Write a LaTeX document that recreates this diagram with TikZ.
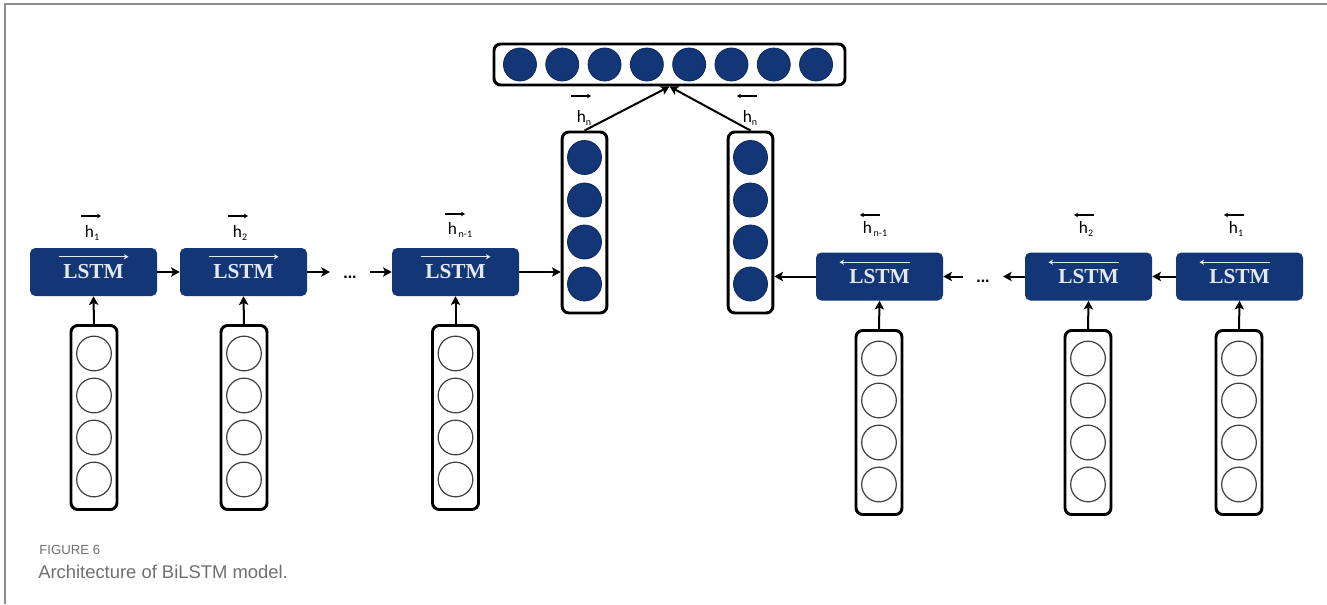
\documentclass[tikz,border=0pt]{standalone}
\usepackage{fontspec}
\setmainfont{Liberation Sans}
\newfontfamily\lstmfont{Liberation Serif}
\newfontfamily\hfont{Carlito}
\usetikzlibrary{arrows.meta,calc}
\definecolor{navy}{RGB}{19,55,118}
\definecolor{navyd}{RGB}{12,38,90}
\definecolor{capgray}{RGB}{112,112,112}
\definecolor{framegray}{RGB}{140,140,140}
\definecolor{lstmtxt}{RGB}{226,233,243}
\newcommand\hsub[1]{h\raisebox{-0.45ex}{\fontsize{7.5pt}{8pt}\selectfont #1}}
\tikzset{
  lstmbox/.style={fill=navy, rounded corners=4pt, minimum width=95.25pt, minimum height=36pt,
    inner sep=0pt, text=lstmtxt, font=\lstmfont\bfseries\fontsize{16pt}{16pt}\selectfont},
  wcol/.style={draw=black, line width=2.2pt, rounded corners=5pt, fill=white, minimum width=34.5pt, inner sep=0pt},
  wcirc/.style={circle, draw=black!75, line width=0.9pt, minimum size=26pt, inner sep=0pt},
  dcirc/.style={circle, fill=navy, draw=navyd, line width=0.6pt, minimum size=25.5pt, inner sep=0pt},
  conn/.style={line width=1.5pt, -{Stealth[length=6.5pt,width=7pt,inset=1.5pt]}},
  harrow/.style={line width=0.8pt, -{Stealth[length=3pt,width=3.5pt]}},
  lstmarrow/.style={draw=lstmtxt, line width=1.1pt, -{Stealth[length=3.5pt,width=4pt]}},
  hlab/.style={font=\hfont\fontsize{13pt}{14pt}\selectfont, inner sep=0pt},
  dots/.style={font=\bfseries\fontsize{12pt}{12pt}\selectfont, inner sep=0pt},
  capt/.style={anchor=base west, inner sep=0pt, text=capgray},
}
\begin{document}
\begin{tikzpicture}[x=0.75pt,y=-0.75pt]
\useasboundingbox (0,0) rectangle (1327,604);
\draw[framegray, line width=1.2pt] (1327,4) -- (5,4) -- (5,604);

% LSTM boxes
\node[lstmbox] (f1) at (93.5,272) {LSTM};
\node[lstmbox] (f2) at (243.5,272) {LSTM};
\node[lstmbox] (f3) at (455.5,272) {LSTM};
\node[lstmbox] (b3) at (879.5,276.5) {LSTM};
\node[lstmbox] (b2) at (1088.5,276.5) {LSTM};
\node[lstmbox] (b1) at (1239.5,276.5) {LSTM};
\foreach \n in {f1,f2,f3}
  \draw[lstmarrow] ($(\n.north)+(-35,9)$) -- ($(\n.north)+(35,9)$);
\foreach \n in {b3,b2,b1}
  \draw[lstmarrow] ($(\n.north)+(30,10)$) -- ($(\n.north)+(-40,10)$);

% input columns
\foreach \nm/\x/\y in {cf1/94/417.5, cf2/244/417.5, cf3/455.5/417.5, cb3/879/422.5, cb2/1088/422.5, cb1/1239/422.5} {
  \node[wcol, minimum height=138pt] (\nm) at (\x,\y) {};
  \foreach \k [count=\i] in {-64,-22,20,62}
    \node[wcirc] (\nm c\i) at ($(\nm)+(0,\k)$) {};
}

% final hidden-state columns
\foreach \nm/\x in {df/584.5, db/750.5} {
  \node[wcol, minimum height=135.75pt, minimum width=33.5pt] (\nm) at (\x,222.5) {};
  \foreach \k [count=\i] in {-65,-22.5,19.5,61.5}
    \node[dcirc] (\nm c\i) at ($(\nm)+(0,\k)$) {};
}

% output vector
\node[wcol, minimum width=263.25pt, minimum height=30.75pt] (top) at (669.5,64.5) {};
\foreach \i in {1,...,8}
  \node[dcirc, minimum size=24.75pt] (tc\i) at ($(top)+({-1.5+(\i-4.5)*42.3},0)$) {};

% forward chain
\coordinate (fd1) at (330,272);
\coordinate (fd2) at (370,272);
\draw[conn] (f1.east) -- (f2.west);
\draw[conn] (f2.east) -- (fd1);
\node[dots] (fdots) at (350,277) {...};
\draw[conn] (fd2) -- (f3.west);
\draw[conn] (f3.east) -- (f3.east -| df.west);

% backward chain
\coordinate (bd1) at (1003,276.5);
\coordinate (bd2) at (963,276.5);
\draw[conn] (b1.west) -- (b2.east);
\draw[conn] (b2.west) -- (bd1);
\node[dots] (bdots) at (983,281) {...};
\draw[conn] (bd2) -- (b3.east);
\draw[conn] (b3.west) -- (b3.west -| db.east);

% inputs
\foreach \c/\b in {cf1/f1, cf2/f2, cf3/f3, cb3/b3, cb2/b2, cb1/b1}
  \draw[conn] (\c.north) -- (\b.south);

% to output
\draw[conn] (df.north) -- (top.south);
\draw[conn] (db.north) -- (top.south);

% hidden labels
\node[hlab, anchor=base] (lf1) at (92,237) {\hsub{1}};
\draw[harrow] ($(lf1.base)+(-11,-21)$) -- ($(lf1.base)+(9,-21)$);
\node[hlab, anchor=base] (lf2) at (240,237) {\hsub{2}};
\draw[harrow] ($(lf2.base)+(-12,-21)$) -- ($(lf2.base)+(8,-21)$);
\node[hlab, anchor=base] (lf3) at (460,234) {\hsub{\,n-1}};
\draw[harrow] ($(lf3.base)+(-15,-20)$) -- ($(lf3.base)+(5,-20)$);
\node[hlab, anchor=base] (lb3) at (875,233) {\hsub{\,n-1}};
\draw[harrow] ($(lb3.base)+(5,-18)$) -- ($(lb3.base)+(-15,-18)$);
\node[hlab, anchor=base] (lb2) at (1086,233) {\hsub{2}};
\draw[harrow] ($(lb2.base)+(8,-18)$) -- ($(lb2.base)+(-12,-18)$);
\node[hlab, anchor=base] (lb1) at (1236,233) {\hsub{1}};
\draw[harrow] ($(lb1.base)+(8,-18)$) -- ($(lb1.base)+(-12,-18)$);
\node[hlab, anchor=base] (lfn) at (584,122) {\hsub{n}};
\draw[harrow] ($(lfn.base)+(-13,-26)$) -- ($(lfn.base)+(7,-26)$);
\node[hlab, anchor=base] (lbn) at (750,122) {\hsub{n}};
\draw[harrow] ($(lbn.base)+(7,-26)$) -- ($(lbn.base)+(-13,-26)$);

% caption
\node[capt, font=\fontsize{9.9pt}{11pt}\selectfont] (figlab) at (39,554) {FIGURE 6};
\node[capt, font=\fontsize{13.8pt}{15pt}\selectfont] (caption) at (38,578) {Architecture of BiLSTM model.};
\end{tikzpicture}
\end{document}
